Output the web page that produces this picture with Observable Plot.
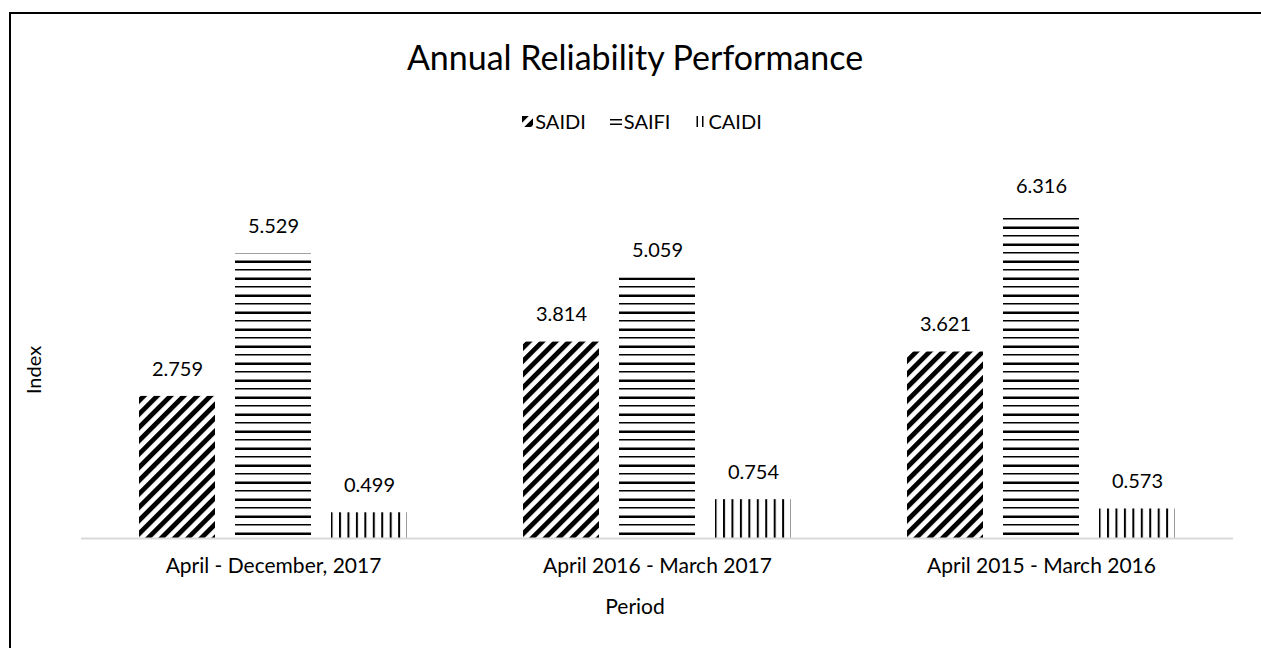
<!DOCTYPE html>
<html>
<head>
<meta charset="utf-8">
<script src="https://cdn.jsdelivr.net/npm/d3@7"></script>
<script src="https://cdn.jsdelivr.net/npm/@observablehq/plot@0.6"></script>
<style>
  html, body { margin: 0; padding: 0; background: #fff; }
  body { width: 1261px; height: 648px; position: relative; overflow: hidden; font-family: Lato, "Open Sans", sans-serif; color: #000; }
  #frame { position: absolute; left: 9px; top: 12px; width: 1400px; height: 800px; border-left: 2px solid #000; border-top: 2px solid #000; box-sizing: border-box; }
  #title { position: absolute; left: 9px; width: 1252px; top: 36px; text-align: center; font-size: 34px; line-height: 42px; }
  #legend { position: absolute; left: 16px; width: 1252px; top: 109px; display: flex; justify-content: center; gap: 24px; font-size: 20px; line-height: 24px; }
  #legend .item { display: flex; align-items: center; gap: 2px; }
  #chart { position: absolute; left: 0; top: 150px; }
  #ylab { position: absolute; left: 33px; top: 370px; transform: translate(-50%, -50%) rotate(-90deg); font-size: 20px; white-space: nowrap; }
  #xlab { position: absolute; left: 9px; width: 1252px; top: 593px; text-align: center; font-size: 21px; line-height: 26px; }
</style>
</head>
<body>
<div id="frame"></div>
<div id="title">Annual Reliability Performance</div>
<div id="legend"></div>
<div id="chart"></div>
<div id="ylab">Index</div>
<div id="xlab">Period</div>
<script>
// ---- data ----
const periods = ["April - December, 2017", "April 2016 - March 2017", "April 2015 - March 2016"];
const seriesNames = ["SAIDI", "SAIFI", "CAIDI"];
const saidi = [2.759, 3.814, 3.621];
const saifi = [5.529, 5.059, 6.316];
const caidi = [0.499, 0.754, 0.573];

const valuesBySeries = { SAIDI: saidi, SAIFI: saifi, CAIDI: caidi };
const rows = [];
periods.forEach((p, i) => {
  seriesNames.forEach(s => rows.push({ period: p, series: s, value: valuesBySeries[s][i] }));
});

const fillFor = s => `url(#pat-${s})`;

const svg = Plot.plot({
  width: 1261,
  height: 478,
  marginLeft: 80,
  marginRight: 28,
  marginTop: 27.5,
  marginBottom: 90,
  style: { fontFamily: "Lato, 'Open Sans', sans-serif", color: "#000", background: "transparent", overflow: "visible" },
  fx: { domain: periods, padding: 0, label: null },
  x: { domain: seriesNames, paddingInner: 0.206, paddingOuter: 0.59, axis: null },
  y: { domain: [0, 7], axis: null },
  color: { type: "identity" },
  marks: [
    Plot.barY(rows, { fx: "period", x: "series", y: "value", fill: d => fillFor(d.series), inset: 0 }),
    Plot.text(rows, { fx: "period", x: "series", y: "value", text: d => d.value.toFixed(3), dy: -27, fontSize: 20, fill: "#000" }),
    Plot.ruleY([0], { stroke: "#d9d9d9", strokeWidth: 2, facet: "exclude" }),
    Plot.axisFx({ anchor: "bottom", tickSize: 0, tickPadding: 20, fontSize: 21, label: null, fill: "#000" })
  ]
});

d3.select(svg).insert("defs", ":first-child").html(`
  <pattern id="pat-SAIDI" patternUnits="userSpaceOnUse" width="9.4" height="9.4" patternTransform="rotate(45)">
    <rect x="0" y="0" width="4.8" height="9.4" fill="#000"/>
  </pattern>
  <pattern id="pat-SAIFI" patternUnits="userSpaceOnUse" width="10" height="17">
    <rect x="0" y="0" width="10" height="1.5" fill="#000"/>
    <rect x="0" y="8.5" width="10" height="2.5" fill="#000"/>
  </pattern>
  <pattern id="pat-CAIDI" patternUnits="userSpaceOnUse" width="8.45" height="10">
    <rect x="0" y="0" width="2" height="10" fill="#000"/>
  </pattern>
`);

document.getElementById("chart").appendChild(svg);

// ---- legend ----
const swatches = {
  SAIDI: `<svg width="11" height="11"><rect width="11" height="11" fill="url(#pat-SAIDI)"/></svg>`,
  SAIFI: `<svg width="12" height="11"><rect x="0" y="3" width="12" height="1.5" fill="#000"/><rect x="0" y="7.5" width="12" height="1.5" fill="#000"/></svg>`,
  CAIDI: `<svg width="12" height="12"><rect x="2.5" y="1" width="1.5" height="11" fill="#000"/><rect x="8" y="1" width="1.5" height="11" fill="#000"/></svg>`
};
const legend = document.getElementById("legend");
seriesNames.forEach(s => {
  const item = document.createElement("div");
  item.className = "item";
  item.innerHTML = swatches[s] + `<span>${s}</span>`;
  legend.appendChild(item);
});
</script>
</body>
</html>
